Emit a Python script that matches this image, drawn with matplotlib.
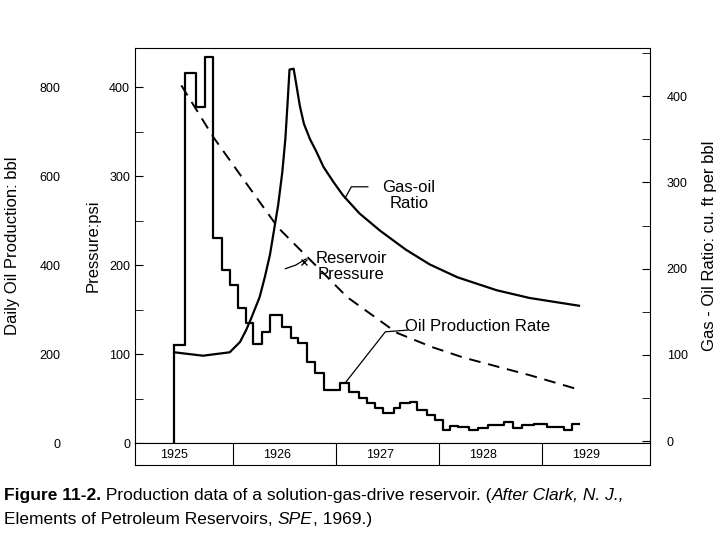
import numpy as np
import matplotlib
matplotlib.use("Agg")
import matplotlib.pyplot as plt
from matplotlib.ticker import MultipleLocator

# oil production rate (bbl/day), step series: (start year, value)
oil_t = [1925.00, 1925.11, 1925.21, 1925.30, 1925.38, 1925.46, 1925.54, 1925.62, 1925.70,
         1925.77, 1925.85, 1925.93, 1926.05, 1926.13, 1926.20, 1926.29, 1926.37, 1926.45,
         1926.61, 1926.70, 1926.79, 1926.87, 1926.95, 1927.03, 1927.13, 1927.19, 1927.29,
         1927.36, 1927.45, 1927.53, 1927.61, 1927.68, 1927.76, 1927.86, 1927.95, 1928.05,
         1928.20, 1928.29, 1928.38, 1928.49, 1928.62, 1928.78, 1928.86, 1928.93]
oil_v = [220, 832, 755, 868, 461, 389, 355, 303, 270, 222, 249, 288, 261, 236, 225, 182,
         157, 119, 135, 115, 101, 90, 79, 67, 79, 90, 92, 74, 63, 52, 29, 38, 35, 29, 33,
         40, 47, 33, 40, 42, 36, 29, 42, 42]

gor_t = [1925.00, 1925.28, 1925.54, 1925.64, 1925.70, 1925.75, 1925.83, 1925.88, 1925.93,
         1925.97, 1926.01, 1926.05, 1926.08, 1926.10, 1926.12, 1926.16, 1926.18, 1926.22,
         1926.26, 1926.32, 1926.38, 1926.45, 1926.55, 1926.64, 1926.80, 1927.00, 1927.25,
         1927.48, 1927.75, 1928.13, 1928.45, 1928.93]
gor_v = [103, 99, 103, 115, 129, 143, 167, 190, 216, 245, 274, 312, 351, 390, 431, 432,
         418, 389, 368, 350, 336, 318, 300, 285, 264, 244, 222, 205, 190, 175, 166, 157]

pres_t = [1925.07, 1925.38, 1925.70, 1926.01, 1926.32, 1926.68, 1927.16, 1927.50, 1927.81,
          1928.46, 1928.93]
pres_v = [402, 344, 292, 242, 206, 164, 124, 108, 96, 76, 60]

years = [1925, 1926, 1927, 1928, 1929]

plt.rcParams["font.family"] = "Liberation Sans"
fig = plt.figure(figsize=(7.28, 5.46), dpi=100)
ax = fig.add_axes([0.1854, 0.1886, 0.7076, 0.7234])
xlim = (1924.62, 1929.62)
ax.set_xlim(*xlim)
ax.set_ylim(0, 444)
ax.set_xticks([])

ax.step(oil_t, np.array(oil_v) / 2, where="post", color="black", lw=1.6)
ax.vlines(oil_t[0], 0, oil_v[0] / 2, color="black", lw=1.6)
ax.plot(pres_t, pres_v, color="black", lw=1.4, ls=(0, (6, 4)))

ax.yaxis.set_major_locator(MultipleLocator(100))
ax.yaxis.set_minor_locator(MultipleLocator(50))
ax.tick_params(axis="y", which="both", direction="in", length=6, labelsize=9)
ax.set_ylabel("Pressure:psi", fontsize=12, labelpad=6)

oil = ax.twinx()
oil.set_ylim(0, 888)
oil.yaxis.set_ticks_position("left")
oil.yaxis.set_label_position("left")
oil.spines["left"].set_position(("outward", 50))
for s in oil.spines.values():
    s.set_visible(False)
oil.set_yticks([0, 200, 400, 600, 800])
oil.tick_params(axis="y", length=0, labelsize=9)
oil.set_ylabel("Daily Oil Production: bbl", fontsize=12, labelpad=14)

gor = ax.twinx()
gor.set_ylim(-2.3, 456)
gor.plot(gor_t, gor_v, color="black", lw=1.6)
for s in gor.spines.values():
    s.set_visible(False)
gor.yaxis.set_major_locator(MultipleLocator(100))
gor.yaxis.set_minor_locator(MultipleLocator(50))
gor.tick_params(axis="y", which="both", direction="in", length=6, labelsize=9, pad=12)
gor.set_ylabel("Gas - Oil Ratio: cu. ft per bbl", fontsize=12, labelpad=10)

# annotations
gor.text(1927.28, 285, "Gas-oil\nRatio", fontsize=12, ha="center", va="center", linespacing=1.1)
gor.plot([1926.66, 1926.72, 1926.88], [282, 295, 295], color="black", lw=0.9)
ax.text(1926.72, 198, "Reservoir\nPressure", fontsize=12, ha="center", va="center", linespacing=1.1)
ax.plot([1926.08, 1926.18, 1926.28], [196, 200, 207], color="black", lw=0.9)
ax.plot(1926.26, 204, marker="x", color="black", ms=5)
ax.text(1927.95, 131, "Oil Production Rate", fontsize=12, ha="center", va="center")
ax.plot([1926.67, 1927.05, 1927.27], [69, 125, 127], color="black", lw=0.9)

# year band
band = fig.add_axes([0.1854, 0.148, 0.7076, 0.0406])
band.set_xlim(*xlim)
band.set_ylim(0, 1)
band.set_xticks([])
band.set_yticks([])
for y in years:
    band.text(y, 0.45, str(y), ha="center", va="center", fontsize=9)
for y in years[:-1]:
    band.axvline(y + 0.57, color="black", lw=0.8)

# caption, laid out piece by piece
renderer = fig.canvas.get_renderer()


def caption_line(pieces, y):
    x = 0.006
    for txt, kw in pieces:
        t = fig.text(x, y, txt, fontsize=12.5, **kw)
        x += t.get_window_extent(renderer).width / fig.bbox.width


caption_line([("Figure 11-2.", {"fontweight": "bold"}),
              (" Production data of a solution-gas-drive reservoir. (", {}),
              ("After Clark, N. J.,", {"style": "italic"})], 0.085)
caption_line([("Elements of Petroleum Reservoirs, ", {}),
              ("SPE", {"style": "italic"}),
              (", 1969.)", {})], 0.040)

fig.savefig("out.png", dpi=100)
